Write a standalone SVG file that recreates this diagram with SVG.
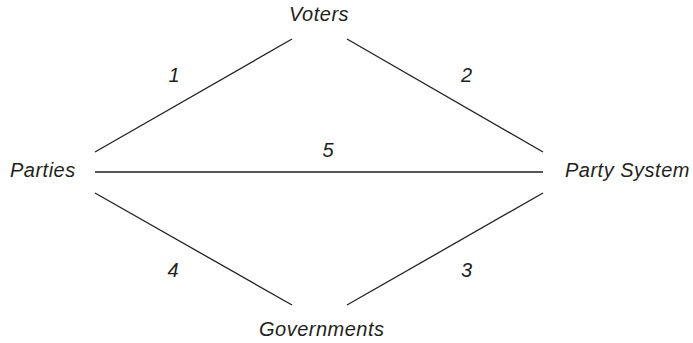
<svg xmlns="http://www.w3.org/2000/svg" width="693" height="343" viewBox="0 0 693 343">
<style>
text{font-family:"Liberation Sans",Arial,sans-serif;font-style:italic;font-size:20px;fill:#231f20}
.lbl{letter-spacing:0.5px}
.num{text-anchor:middle}
.c line{stroke:#231f20;stroke-width:1.3}
</style>
<rect width="693" height="343" fill="#fff"/>
<g class="c" id="connectors">
<line x1="95" y1="152" x2="292" y2="39"/>
<line x1="347" y1="39" x2="543" y2="152"/>
<line x1="95" y1="172" x2="543" y2="172"/>
<line x1="95" y1="193" x2="292" y2="305"/>
<line x1="347" y1="305" x2="543" y2="193"/>
<text class="num" x="174" y="82">1</text>
<text class="num" x="466.5" y="82">2</text>
<text class="num" x="328" y="157">5</text>
<text class="num" x="173" y="277">4</text>
<text class="num" x="466.5" y="277">3</text>
</g>
<g id="voters"><text class="lbl" x="289" y="21">Voters</text></g>
<g id="parties"><text class="lbl" x="10" y="177">Parties</text></g>
<g id="party-system"><text class="lbl" x="565" y="177">Party System</text></g>
<g id="governments"><text class="lbl" x="259" y="336">Governments</text></g>
</svg>
